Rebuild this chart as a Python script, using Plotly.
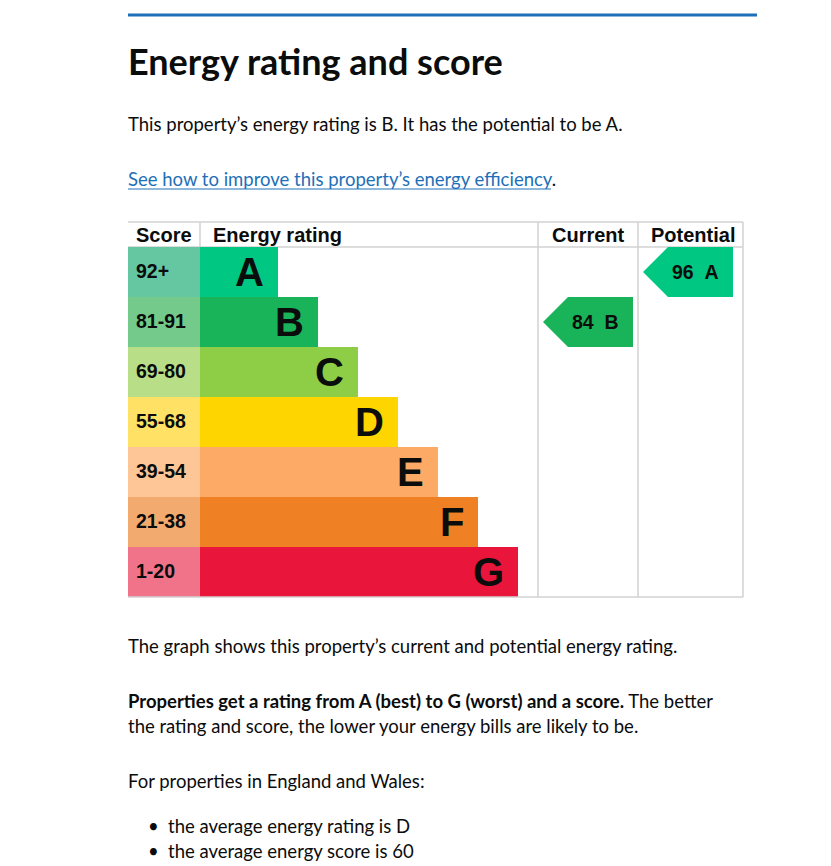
import plotly.graph_objects as go

# ---- data ----
bands = ["A", "B", "C", "D", "E", "F", "G"]
score_ranges = ["92+", "81-91", "69-80", "55-68", "39-54", "21-38", "1-20"]
band_min = [92, 81, 69, 55, 39, 21, 1]
bar_colors = ["#00c781", "#19b459", "#8dce46", "#ffd500", "#fcaa65", "#ef8023", "#e9153b"]
score_colors = ["#64c7a2", "#73ca8b", "#b8df87", "#ffe265", "#fec597", "#f3aa6f", "#f0738a"]
current_score = 84
potential_score = 96
header_labels = ["Score", "Energy rating", "Current", "Potential"]

# ---- layout constants (pixels) ----
W, H = 831, 866
LEFT = 128
SCORE_W = 72
BAR_X0 = LEFT + SCORE_W
ROW_H = 50
HEAD_TOP = 222
HEAD_H = 25
TABLE_TOP = HEAD_TOP + HEAD_H
BAR_MIN = 78
BAR_STEP = 40
CUR_X0, CUR_X1 = 538, 638
POT_X0, POT_X1 = 638, 743
ARROW_W = 90
GRID = "#d2d2d2"
TEXT = "#0b0c0c"
BLUE = "#1d70b8"
BODY_FONT = "Lato"
BODY_SIZE = 18.5
TABLE_FONT = "Liberation Sans, Arial"
PAD = 2  # annotation inner padding compensation

n = len(bands)
row_centers = [TABLE_TOP + ROW_H * i + ROW_H / 2 for i in range(n)]
bar_lengths = [BAR_MIN + BAR_STEP * i for i in range(n)]
TABLE_BOT = TABLE_TOP + ROW_H * n

fig = go.Figure()

# score cells
fig.add_trace(go.Bar(orientation="h", y=row_centers, x=[SCORE_W] * n, base=LEFT,
                     width=ROW_H, marker=dict(color=score_colors, line=dict(width=0)),
                     hoverinfo="skip", showlegend=False))
# rating bars
fig.add_trace(go.Bar(orientation="h", y=row_centers, x=bar_lengths, base=BAR_X0,
                     width=ROW_H, marker=dict(color=bar_colors, line=dict(width=0)),
                     hoverinfo="skip", showlegend=False))


def band_index(score):
    for i, m in enumerate(band_min):
        if score >= m:
            return i
    return n - 1


def add_arrow(score, x0):
    i = band_index(score)
    yc = row_centers[i]
    top, bot = yc - ROW_H / 2, yc + ROW_H / 2
    tip = x0 + 5
    right = tip + ARROW_W
    body = tip + 25
    fig.add_trace(go.Scatter(x=[tip, body, right, right, body, tip],
                             y=[yc, top, top, bot, bot, yc], mode="lines",
                             fill="toself", fillcolor=bar_colors[i],
                             line=dict(width=0, color=bar_colors[i]),
                             hoverinfo="skip", showlegend=False))
    fig.add_annotation(x=(body + right) / 2 - 5, y=yc, text=f"<b>{score}&nbsp;&nbsp;{bands[i]}</b>",
                       showarrow=False, xanchor="center", yanchor="middle",
                       font=dict(family=TABLE_FONT, size=19.5, color=TEXT))


add_arrow(current_score, CUR_X0)
add_arrow(potential_score, POT_X0)

# band letters & score labels
for i in range(n):
    fig.add_annotation(x=BAR_X0 + bar_lengths[i] - 12, y=row_centers[i],
                       text=f"<b>{bands[i]}</b>", showarrow=False,
                       xanchor="right", yanchor="middle",
                       font=dict(family=TABLE_FONT, size=40, color=TEXT))
    fig.add_annotation(x=LEFT + 8 - PAD, y=row_centers[i] - 1.5, text=f"<b>{score_ranges[i]}</b>",
                       showarrow=False, xanchor="left", yanchor="middle",
                       font=dict(family=TABLE_FONT, size=19.5, color=TEXT))

# headers
head_y = HEAD_TOP + HEAD_H / 2
head_pos = [(LEFT + 8 - PAD, "left"), (BAR_X0 + 13 - PAD, "left"),
            ((CUR_X0 + CUR_X1) / 2, "center"), ((POT_X0 + POT_X1) / 2 + 2, "center")]
for lab, (hx, anc) in zip(header_labels, head_pos):
    fig.add_annotation(x=hx, y=head_y, text=f"<b>{lab}</b>", showarrow=False,
                       xanchor=anc, yanchor="middle",
                       font=dict(family=TABLE_FONT, size=20, color=TEXT))

# grid lines
shapes = []
def line(x0, y0, x1, y1, layer="above"):
    shapes.append(dict(type="line", x0=x0, y0=y0, x1=x1, y1=y1, layer=layer,
                       line=dict(color=GRID, width=1.5)))

line(LEFT, HEAD_TOP, POT_X1, HEAD_TOP)
line(LEFT, TABLE_BOT, POT_X1, TABLE_BOT)
line(BAR_X0, HEAD_TOP, BAR_X0, TABLE_TOP)
for gx in (CUR_X0, CUR_X1, POT_X1):
    line(gx, HEAD_TOP, gx, TABLE_BOT)
line(LEFT, TABLE_TOP, POT_X1, TABLE_TOP, layer="below")
# top blue rule
shapes.append(dict(type="line", x0=LEFT, y0=15, x1=757, y1=15, line=dict(color=BLUE, width=3)))
# link underline
shapes.append(dict(type="line", x0=LEFT, y0=189, x1=551, y1=189, line=dict(color=BLUE, width=1)))

# page text
def txt(x, y, s, size=BODY_SIZE, color=TEXT, family=BODY_FONT):
    fig.add_annotation(x=x - PAD, y=y, text=s, showarrow=False, xanchor="left", yanchor="middle",
                       font=dict(family=family, size=size, color=color))

txt(LEFT, 61, "<b>Energy rating and score</b>", size=36)
txt(LEFT, 124, "This property’s energy rating is B. It has the potential to be A.")
txt(LEFT, 179, f"<span style='color:{BLUE}'>See how to improve this property’s energy efficiency</span>.")
txt(LEFT, 646, "The graph shows this property’s current and potential energy rating.")
txt(LEFT, 701, "<b>Properties get a rating from A (best) to G (worst) and a score.</b> The better")
txt(LEFT, 726, "the rating and score, the lower your energy bills are likely to be.")
txt(LEFT, 781, "For properties in England and Wales:")
txt(148, 826, "•")
txt(168, 826, "the average energy rating is D")
txt(148, 851, "•")
txt(168, 851, "the average energy score is 60")

fig.update_layout(width=W, height=H, margin=dict(l=0, r=0, t=0, b=0),
                  paper_bgcolor="white", plot_bgcolor="white", shapes=shapes,
                  barmode="overlay", showlegend=False,
                  xaxis=dict(range=[0, W], visible=False, fixedrange=True),
                  yaxis=dict(range=[H, 0], visible=False, fixedrange=True))

fig.write_html("out.html")
